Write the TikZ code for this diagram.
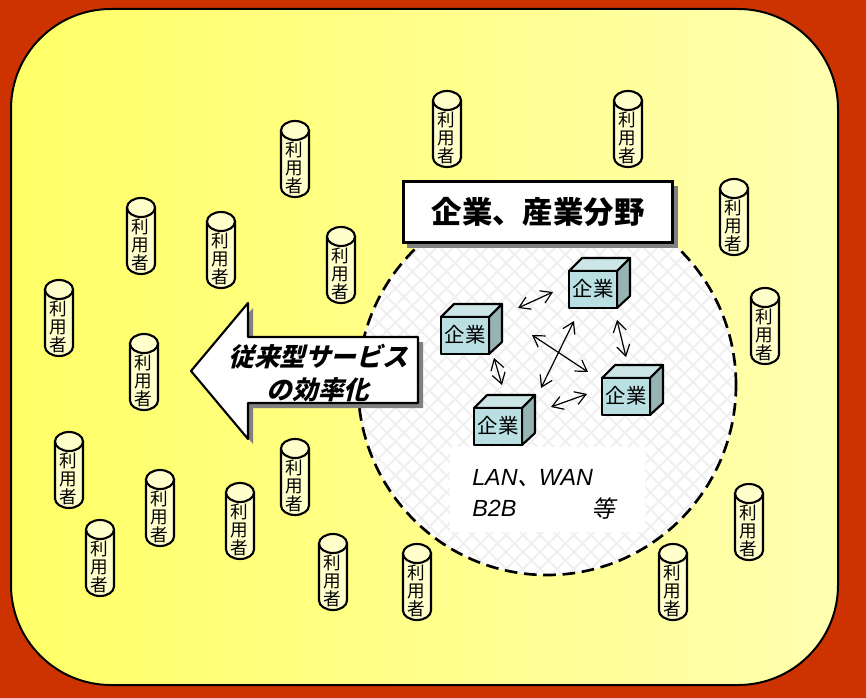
\documentclass[tikz,border=0pt]{standalone}
\usepackage{fontspec}
\usetikzlibrary{arrows.meta}
\setmainfont{Noto Sans CJK JP}
\newfontfamily\cjkslant[FakeSlant=0.25]{Noto Sans CJK JP}
\newfontfamily\latinslant{Liberation Sans}[ItalicFont=* Italic]
\definecolor{bgred}{HTML}{CC3300}
\definecolor{yellowL}{HTML}{FFFF66}
\definecolor{yellowR}{HTML}{FFFFB0}
\definecolor{cream}{HTML}{FFFFCC}
\definecolor{lattice}{HTML}{F0F0F0}
\definecolor{cubeF}{HTML}{B9DFE3}
\definecolor{cubeT}{HTML}{CCE6E8}
\definecolor{cubeS}{HTML}{96B3B6}
\definecolor{shadowgray}{HTML}{808080}
\tikzset{
  outline/.style={draw=black,line width=1.6pt,line join=round},
  usertext/.style={font=\fontsize{13.2pt}{13.5pt}\selectfont,align=center,inner sep=0pt,text=black},
  cubetext/.style={font=\fontsize{15.3pt}{16pt}\selectfont,inner sep=0pt,text=black},
  link/.style={draw=black,line width=0.9pt,{Straight Barb[length=8pt,width=10pt]}-{Straight Barb[length=8pt,width=10pt]}},
  slanttext/.style={font=\cjkslant\bfseries\fontsize{19.2pt}{20pt}\selectfont,inner sep=0pt},
  nettext/.style={font=\latinslant\itshape\fontsize{17.5pt}{19pt}\selectfont,inner sep=0pt,anchor=base west},
}
\newcommand{\userbox}[3]{%
  \begin{scope}[shift={(#2,#3)}]
    \path[outline,fill=cream] (-14,9.5) -- (-14,66.5) .. controls (-14,71.7) and (-7.7,76) .. (0,76)
      .. controls (7.7,76) and (14,71.7) .. (14,66.5) -- (14,9.5) -- cycle;
    \path[outline,fill=cream] (-14,9.5) .. controls (-14,4.3) and (-7.7,0) .. (0,0)
      .. controls (7.7,0) and (14,4.3) .. (14,9.5) .. controls (14,14.7) and (7.7,19) .. (0,19)
      .. controls (-7.7,19) and (-14,14.7) .. (-14,9.5) -- cycle;
    \node[usertext] (#1) at (-0.5,47) {利\\用\\者};
  \end{scope}}
\newcommand{\firm}[3]{%
  \begin{scope}[shift={(#2,#3)}]
    \path[outline,fill=cubeT] (0,0) -- (13,-13) -- (61,-13) -- (48,0) -- cycle;
    \path[outline,fill=cubeS] (48,0) -- (61,-13) -- (61,25) -- (48,37) -- cycle;
    \path[outline,fill=cubeF] (0,0) rectangle (48,37);
    \node[cubetext] (#1) at (24,17.5) {企業};
  \end{scope}}
\begin{document}
\begin{tikzpicture}[x=0.75pt,y=-0.75pt]
\useasboundingbox (0,0) rectangle (866,698);
\fill[bgred] (0,0) rectangle (866,698);
\path[draw=black,line width=1.5pt,left color=yellowL,right color=yellowR,rounded corners=75pt] (11,9) rectangle (838,685);
% circle of the firms
\fill[white] (547,385) ellipse [x radius=141.75pt,y radius=142.5pt];
\begin{scope}
  \clip (547,385) ellipse [x radius=141.75pt,y radius=142.5pt];
  \foreach \k in {0,...,60}{
    \draw[lattice,line width=1.4pt] (300+\k*17,180) -- (300+\k*17-420,600);
    \draw[lattice,line width=1.4pt] (300-\k*17+480,180) -- (300-\k*17+480+420,600);
  }
  \fill[white] (450,447) rectangle (645,532);
\end{scope}
\draw[black,line width=2pt,dash pattern=on 9.5pt off 5pt] (547,385) ellipse [x radius=141.75pt,y radius=142.5pt];
% title
\fill[shadowgray] (407,186) rectangle (678,248);
\node[draw=black,line width=2.4pt,fill=white,minimum width=201.5pt,minimum height=45.5pt,inner sep=0pt,
  font=\bfseries\fontsize{22.8pt}{24pt}\selectfont] (title) at (538,212) {\raisebox{-1.5pt}{企業、産業分野}};
% arrow
\fill[shadowgray] (196,376) -- (253,308) -- (253,342) -- (423,342) -- (423,408) -- (253,408) -- (253,444) -- cycle;
\path[outline,fill=white] (191,371) -- (248,303) -- (248,337) -- (418,337) -- (418,403) -- (248,403) -- (248,439) -- cycle;
\node[slanttext] (old1) at (318,357) {従来型サービス};
\node[slanttext] (old2) at (318,390) {の効率化};
% firms
\firm{f1}{569}{271}
\firm{f2}{441}{317}
\firm{f3}{474}{408}
\firm{f4}{602}{378}
% links
\coordinate (a1) at (518,308); \coordinate (a2) at (553,292);
\coordinate (b1) at (617,320); \coordinate (b2) at (626,357);
\coordinate (c1) at (532,335); \coordinate (c2) at (588,372);
\coordinate (d1) at (574,321); \coordinate (d2) at (541,388);
\coordinate (e1) at (494,358); \coordinate (e2) at (502,385);
\coordinate (g1) at (551,407); \coordinate (g2) at (587,394);
\draw[link] (a1) -- (a2);
\draw[link] (b1) -- (b2);
\draw[link] (c1) -- (c2);
\draw[link] (d1) -- (d2);
\draw[link] (e1) -- (e2);
\draw[link] (g1) -- (g2);
% network text
\node[nettext] (lan) at (472,485) {LAN{\cjkslant\hspace{0pt}、\hspace{-1.5pt}}WAN};
\node[nettext] (b2b) at (472,516) {B2B};
\node[inner sep=0pt,font=\cjkslant\fontsize{17.5pt}{19pt}\selectfont] (etc) at (603,509) {等};
% users
\userbox{u1}{447}{91}
\userbox{u2}{628}{91}
\userbox{u3}{734}{179}
\userbox{u4}{765}{288}
\userbox{u5}{295}{121}
\userbox{u6}{141}{198}
\userbox{u7}{221}{212}
\userbox{u8}{341}{227}
\userbox{u9}{59}{280}
\userbox{u10}{144}{334}
\userbox{u11}{69}{432}
\userbox{u12}{160}{470}
\userbox{u13}{240}{483}
\userbox{u14}{295}{439}
\userbox{u15}{100}{520}
\userbox{u16}{333}{534}
\userbox{u17}{417}{544}
\userbox{u18}{673}{544}
\userbox{u19}{749}{484}
\end{tikzpicture}
\end{document}
